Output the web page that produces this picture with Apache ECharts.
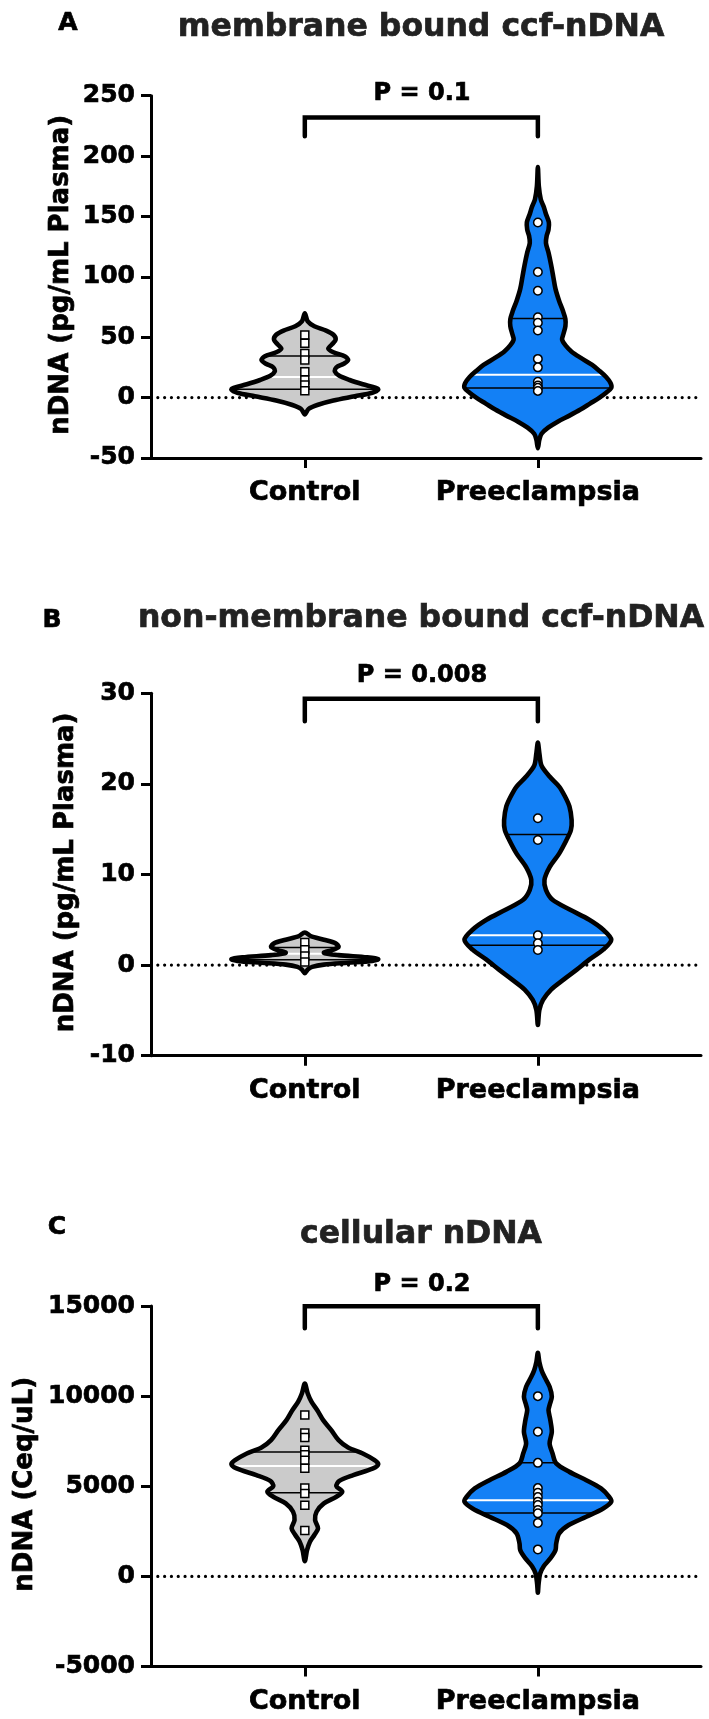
<!DOCTYPE html>
<html>
<head>
<meta charset="utf-8">
<script src="https://cdn.jsdelivr.net/npm/echarts@6/dist/echarts.min.js"></script>
<style>
html,body{margin:0;padding:0;background:#fff;}
#chart{width:709px;height:1719px;}
</style>
</head>
<body>
<div id="chart"></div>
<script>
// ---------------- DATA ----------------
const categories = ['Control', 'Preeclampsia'];

// Panel A: membrane bound ccf-nDNA
const aTitle = 'membrane bound ccf-nDNA';
const aYName = 'nDNA (pg/mL Plasma)';
const aTicks = [-50, 0, 50, 100, 150, 200, 250];
const aPLabel = 'P = 0.1';
const aBracket = [216.5, 232];           // leg end, bar height
const aCtrlPts = [51.7, 44.9, 36.5, 31, 21.4, 14.5, 10.3, 5.6];
const aPrePts = [145, 104, 88.5, 66.5, 62, 55.5, 32, 25, 13, 10, 8, 5.5];
const aCtrlQ = [6.8, 17, 34.5];           // Q1, median, Q3
const aPreQ = [7.8, 18.8, 65.5];
const aCtrlProfV = [69.7, 63, 59, 55.5, 52, 48, 44, 40.5, 37.5, 34, 31, 28, 25, 21.5, 18, 14.5, 11, 8, 6.5, 4, 1, -2.5, -6, -9.5, -14];
const aCtrlProfW = [0, 0.04, 0.13, 0.29, 0.39, 0.42, 0.37, 0.32, 0.39, 0.55, 0.59, 0.53, 0.43, 0.41, 0.47, 0.61, 0.79, 0.97, 1, 0.92, 0.68, 0.39, 0.18, 0.05, 0];
const aPreProfV = [191, 175, 164, 158, 152, 145, 139, 134, 128, 120, 110, 100, 90, 80, 72, 65, 59, 53, 48, 43, 38, 33, 27, 22, 17, 12, 8, 4, 0, -5, -10, -15, -20, -25, -30, -35, -42];
const aPreProfW = [0, 0.013, 0.04, 0.08, 0.11, 0.15, 0.145, 0.12, 0.11, 0.145, 0.18, 0.21, 0.24, 0.29, 0.34, 0.375, 0.375, 0.35, 0.33, 0.38, 0.46, 0.58, 0.74, 0.84, 0.93, 0.99, 1, 0.93, 0.84, 0.71, 0.58, 0.43, 0.27, 0.14, 0.05, 0.02, 0];

// Panel B: non-membrane bound ccf-nDNA
const bTitle = 'non-membrane bound ccf-nDNA';
const bYName = 'nDNA (pg/mL Plasma)';
const bTicks = [-10, 0, 10, 20, 30];
const bPLabel = 'P = 0.008';
const bBracket = [26.9, 29.4];
const bCtrlPts = [2.5, 1.7, 1.0, 0.35];
const bPrePts = [16.2, 13.8, 3.3, 2.4, 1.67];
const bCtrlQ = [0.6, 1.25, 1.95];
const bPreQ = [2.2, 3.3, 14.4];
const bCtrlProfV = [3.6, 3.2, 2.8, 2.4, 2.0, 1.65, 1.35, 1.1, 0.85, 0.65, 0.45, 0.25, 0.05, -0.2, -0.5, -0.9];
const bCtrlProfW = [0, 0.08, 0.26, 0.42, 0.46, 0.37, 0.26, 0.46, 0.85, 1, 0.92, 0.59, 0.26, 0.1, 0.04, 0];
const bPreProfV = [24.55, 23.4, 22.0, 20.8, 19.7, 18.6, 17.5, 16.0, 14.9, 13.8, 12.3, 10.8, 9.4, 8.3, 7.2, 6.1, 5.0, 3.9, 2.8, 1.7, 0.6, -0.5, -1.6, -2.7, -3.85, -4.95, -6.6];
const bPreProfW = [0, 0.02, 0.05, 0.16, 0.29, 0.37, 0.43, 0.46, 0.45, 0.39, 0.29, 0.16, 0.09, 0.11, 0.2, 0.44, 0.7, 0.89, 1, 0.89, 0.7, 0.53, 0.35, 0.18, 0.07, 0.02, 0];

// Panel C: cellular nDNA
const cTitle = 'cellular nDNA';
const cYName = 'nDNA (Ceq/uL)';
const cTicks = [-5000, 0, 5000, 10000, 15000];
const cPLabel = 'P = 0.2';
const cBracket = [13770, 14990];
const cCtrlPts = [8950, 7950, 7700, 7000, 6750, 6450, 6000, 4900, 4600, 3950, 2550];
const cPrePts = [10000, 8030, 6300, 4900, 4640, 4400, 4150, 3960, 3680, 3500, 2970, 1500];
const cCtrlQ = [4640, 6130, 6900];
const cPreQ = [3520, 4230, 6300];
const cCtrlProfV = [10700, 10150, 9700, 9220, 8670, 8120, 7560, 7150, 6820, 6450, 6230, 5990, 5620, 5300, 5010, 4700, 4420, 4050, 3590, 3130, 2670, 2300, 1930, 1460, 850];
const cCtrlProfW = [0, 0.04, 0.09, 0.17, 0.25, 0.36, 0.46, 0.59, 0.79, 0.95, 1, 0.93, 0.66, 0.47, 0.43, 0.51, 0.43, 0.26, 0.16, 0.14, 0.18, 0.13, 0.07, 0.03, 0];
const cPreProfV = [12400, 11900, 11440, 11070, 10520, 9960, 9500, 9220, 8670, 8020, 7380, 6820, 6270, 5800, 5340, 4880, 4420, 4140, 3770, 3310, 2850, 2390, 1830, 1460, 1000, 570, 150, -400, -900];
const cPreProfW = [0, 0.02, 0.05, 0.09, 0.16, 0.19, 0.16, 0.145, 0.17, 0.19, 0.16, 0.2, 0.25, 0.43, 0.66, 0.86, 0.97, 1, 0.89, 0.66, 0.42, 0.29, 0.25, 0.24, 0.17, 0.08, 0.03, 0.01, 0];

// ---------------- STYLE ----------------
const FONT = '"DejaVu Sans", "Liberation Sans", Arial, sans-serif';
const CTRL_FILL = '#cbcbcb';
const PRE_FILL = '#1380f5';
const HALF = 0.315;          // max half width of a violin in x-axis units
const X_MIN = 0.34, X_MAX = 2.70;
const BOLDEN = 0.7;          // extra stroke on text to match the heavy reference type

const panels = [
  {title: aTitle, yName: aYName, ticks: aTicks, p: aPLabel, bracket: aBracket,
   groups: [
     {pts: aCtrlPts, q: aCtrlQ, pv: aCtrlProfV, pw: aCtrlProfW, fill: CTRL_FILL},
     {pts: aPrePts, q: aPreQ, pv: aPreProfV, pw: aPreProfW, fill: PRE_FILL}],
   grid: {top: 95.7, height: 362.2}, letter: 'A', letterPos: [68, 23], titleY: 28, pY: 94, nameX: 61},
  {title: bTitle, yName: bYName, ticks: bTicks, p: bPLabel, bracket: bBracket,
   groups: [
     {pts: bCtrlPts, q: bCtrlQ, pv: bCtrlProfV, pw: bCtrlProfW, fill: CTRL_FILL},
     {pts: bPrePts, q: bPreQ, pv: bPreProfV, pw: bPreProfW, fill: PRE_FILL}],
   grid: {top: 693.2, height: 362.5}, letter: 'B', letterPos: [52, 620], titleY: 619, pY: 676, nameX: 66},
  {title: cTitle, yName: cYName, ticks: cTicks, p: cPLabel, bracket: cBracket,
   groups: [
     {pts: cCtrlPts, q: cCtrlQ, pv: cCtrlProfV, pw: cCtrlProfW, fill: CTRL_FILL},
     {pts: cPrePts, q: cPreQ, pv: cPreProfV, pw: cPreProfW, fill: PRE_FILL}],
   grid: {top: 1306, height: 360.6}, letter: 'C', letterPos: [57, 1227], titleY: 1235, pY: 1285, nameX: 25}
];

function widthAt(pv, pw, v) {
  for (let i = 0; i < pv.length - 1; i++) {
    const a = pv[i], b = pv[i + 1];
    if ((v <= a && v >= b)) {
      const t = (a - v) / (a - b);
      return pw[i] + t * (pw[i + 1] - pw[i]);
    }
  }
  return 0;
}

function makeViolin(panel) {
  return function (params, api) {
    const g = panel.groups[params.dataIndex];
    const xc = api.value(0);
    const pts = [];
    for (let i = g.pv.length - 1; i >= 0; i--) pts.push(api.coord([xc + g.pw[i] * HALF, g.pv[i]]));
    for (let i = 1; i < g.pv.length - 1; i++) pts.push(api.coord([xc - g.pw[i] * HALF, g.pv[i]]));
    const children = [{
      type: 'polygon', shape: {points: pts, smooth: 0.3},
      style: {fill: g.fill, stroke: null}
    }];
    g.q.forEach((q, k) => {
      const w = widthAt(g.pv, g.pw, q) * HALF;
      const p1 = api.coord([xc - w, q]), p2 = api.coord([xc + w, q]);
      children.push({
        type: 'line', shape: {x1: p1[0], y1: p1[1], x2: p2[0], y2: p2[1]},
        style: {stroke: k === 1 ? '#ffffff' : '#000000', lineWidth: k === 1 ? 2 : 1.5}
      });
    });
    children.push({
      type: 'polygon', shape: {points: pts, smooth: 0.3},
      style: {fill: null, stroke: '#000', lineWidth: 4.6, lineJoin: 'round'}
    });
    return {type: 'group', children: children};
  };
}

const option = {
  animation: false,
  backgroundColor: '#ffffff',
  grid: [], xAxis: [], yAxis: [], series: [], graphic: []
};

panels.forEach((pn, i) => {
  option.grid.push({left: 151, width: 550, top: pn.grid.top, height: pn.grid.height, containLabel: false});
  option.xAxis.push({
    gridIndex: i, type: 'value', min: X_MIN, max: X_MAX,
    axisLine: {show: true, onZero: false, lineStyle: {color: '#000', width: 3}},
    axisTick: {show: true, customValues: [1, 2], length: 10, lineStyle: {color: '#000', width: 3}},
    axisLabel: {show: true, customValues: [1, 2], margin: 22,
      formatter: v => categories[Math.round(v) - 1] || '',
      color: '#000', fontFamily: FONT, fontWeight: 'bold', fontSize: 27,
      textBorderColor: '#000', textBorderWidth: BOLDEN},
    splitLine: {show: false}
  });
  const t = pn.ticks;
  option.yAxis.push({
    gridIndex: i, type: 'value', min: t[0], max: t[t.length - 1], interval: t[1] - t[0],
    axisLine: {show: true, onZero: false, lineStyle: {color: '#000', width: 3}},
    axisTick: {show: true, length: 10, lineStyle: {color: '#000', width: 3}},
    axisLabel: {color: '#000', fontFamily: FONT, fontWeight: 'bold', fontSize: 25, margin: 16,
      formatter: v => String(v), textBorderColor: '#000', textBorderWidth: BOLDEN},
    splitLine: {show: false}
  });
  // zero reference line
  option.series.push({
    type: 'line', xAxisIndex: i, yAxisIndex: i, data: [[X_MIN, 0], [X_MAX, 0]],
    symbol: 'none', silent: true, z: 1,
    lineStyle: {color: '#000', width: 3.2, type: [0.01, 6.8], cap: 'round'}
  });
  // violins
  option.series.push({
    type: 'custom', xAxisIndex: i, yAxisIndex: i, coordinateSystem: 'cartesian2d',
    data: [[1, 0], [2, 0]], renderItem: makeViolin(pn), clip: false, silent: true, z: 2
  });
  // points
  option.series.push({
    type: 'scatter', xAxisIndex: i, yAxisIndex: i, symbol: 'rect', symbolSize: 8,
    data: pn.groups[0].pts.map(v => [1, v]), z: 3, silent: true,
    itemStyle: {color: '#fff', borderColor: '#000', borderWidth: 1.5, opacity: 1}
  });
  option.series.push({
    type: 'scatter', xAxisIndex: i, yAxisIndex: i, symbol: 'circle', symbolSize: 8.5,
    data: pn.groups[1].pts.map(v => [2, v]), z: 3, silent: true,
    itemStyle: {color: '#fff', borderColor: '#000', borderWidth: 1.5, opacity: 1}
  });
  // significance bracket
  const br = pn.bracket;
  option.series.push({
    type: 'line', xAxisIndex: i, yAxisIndex: i,
    data: [[1, br[0]], [1, br[1]], [2, br[1]], [2, br[0]]],
    symbol: 'none', silent: true, z: 2,
    lineStyle: {color: '#000', width: 4.5, cap: 'round', join: 'miter'}
  });
  // texts
  option.graphic.push(
    {type: 'text', x: pn.letterPos[0], y: pn.letterPos[1], style: {text: pn.letter, font: 'bold 25px ' + FONT, fill: '#000', stroke: '#000', lineWidth: BOLDEN, textAlign: 'center', textVerticalAlign: 'middle'}},
    {type: 'text', x: 421, y: pn.titleY, style: {text: pn.title, font: 'bold 31.5px ' + FONT, fill: '#222', stroke: '#222', lineWidth: BOLDEN, textAlign: 'center', textVerticalAlign: 'middle'}},
    {type: 'text', x: 422, y: pn.pY, style: {text: pn.p, font: 'bold 24px ' + FONT, fill: '#000', stroke: '#000', lineWidth: BOLDEN, textAlign: 'center', textVerticalAlign: 'middle'}},
    {type: 'text', x: pn.nameX, y: pn.grid.top + pn.grid.height / 2 - 2,
     rotation: Math.PI / 2,
     style: {text: pn.yName, font: 'bold 26px ' + FONT, fill: '#000', stroke: '#000', lineWidth: BOLDEN, textAlign: 'center', textVerticalAlign: 'middle'}}
  );
});

const chart = echarts.init(document.getElementById('chart'), null, {renderer: 'canvas'});
chart.setOption(option);
</script>
</body>
</html>
